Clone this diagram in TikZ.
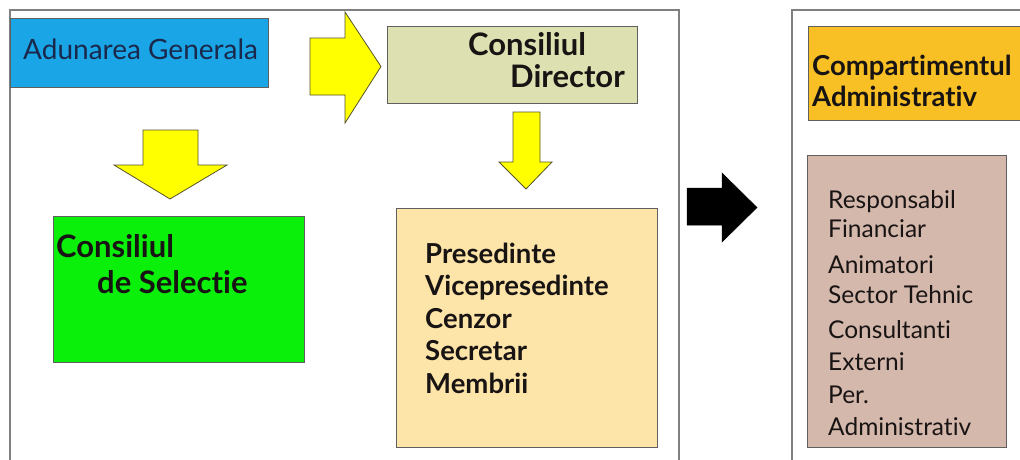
\documentclass[tikz,border=0pt]{standalone}
\usepackage{fontspec}
\setmainfont{Lato}[Ligatures=NoCommon]
\definecolor{agblue}{RGB}{26,166,230}
\definecolor{cdolive}{RGB}{221,224,176}
\definecolor{arryellow}{RGB}{255,255,0}
\definecolor{csgreen}{RGB}{10,240,10}
\definecolor{cream}{RGB}{253,228,168}
\definecolor{hdrorange}{RGB}{248,192,36}
\definecolor{pinkbox}{RGB}{212,184,172}
\definecolor{framegray}{RGB}{128,128,128}
\definecolor{boxgray}{RGB}{96,96,96}
\definecolor{navy}{RGB}{25,40,75}
\definecolor{txt}{RGB}{25,20,20}
\tikzset{
  frame/.style={draw=framegray, line width=1.3pt},
  boxstyle/.style={draw=boxgray, line width=1pt},
  yarrow/.style={fill=arryellow, draw=black!50!olive, line width=0.8pt, line join=miter},
  barrow/.style={fill=black, draw=black, line width=0.5pt},
  lbl/.style={anchor=base west, inner sep=0pt, text=txt},
  bigbold/.style={lbl, font=\fontsize{31}{34}\selectfont\bfseries},
  midbold/.style={lbl, font=\fontsize{27.5}{30}\selectfont\bfseries},
  reg/.style={lbl, font=\fontsize{24.5}{27}\selectfont},
}
\begin{document}
\begin{tikzpicture}[x=1pt,y=-1pt]
\useasboundingbox (0,0) rectangle (1020,459);
\fill[white] (0,0) rectangle (1020,459);
% outer frames
\draw[frame] (10,10) rectangle (679,475);
\draw[frame] (792,10) rectangle (1040,475);
% boxes
\node[boxstyle, fill=agblue, minimum width=258pt, minimum height=69pt, inner sep=0pt] (ag) at (139,52.5) {};
\node[boxstyle, fill=cdolive, minimum width=250pt, minimum height=77pt, inner sep=0pt] (cd) at (512,64.5) {};
\node[boxstyle, fill=csgreen, minimum width=251pt, minimum height=146pt, inner sep=0pt] (cs) at (178.5,289) {};
\node[boxstyle, fill=cream, minimum width=261pt, minimum height=239pt, inner sep=0pt] (cm) at (526.5,327.5) {};
\node[boxstyle, fill=hdrorange, minimum width=240pt, minimum height=94pt, inner sep=0pt] (ca) at (928,73) {};
\node[boxstyle, fill=pinkbox, minimum width=199pt, minimum height=292pt, inner sep=0pt] (rf) at (906.5,301) {};
% block arrows
\draw[yarrow] (310,38) -- (345,38) -- (345,12) -- (381,66.5) -- (345,123) -- (345,95) -- (310,95) -- cycle;
\draw[yarrow] (143,130) -- (198,130) -- (198,165) -- (227,165) -- (170,199) -- (114,165) -- (143,165) -- cycle;
\draw[yarrow] (513,112) -- (540,112) -- (540,162) -- (552,162) -- (526,189) -- (499,162) -- (513,162) -- cycle;
\draw[barrow] (687,188) -- (722,188) -- (722,173) -- (757,207.5) -- (722,242) -- (722,225) -- (687,225) -- cycle;
% texts
\node[lbl, text=navy, font=\fontsize{28}{30}\selectfont] (tag) at (23,59) {Adunarea Generala};
\node[bigbold] (tcd1) at (468,55) {Consiliul};
\node[bigbold] (tcd2) at (510,87) {Director};
\node[bigbold] (tcs1) at (56,257) {Consiliul};
\node[bigbold] (tcs2) at (97,293) {de Selectie};
\node[midbold] (tm1) at (425,263) {Presedinte};
\node[midbold] (tm2) at (425,295) {Vicepresedinte};
\node[midbold] (tm3) at (425,328) {Cenzor};
\node[midbold] (tm4) at (425,360) {Secretar};
\node[midbold] (tm5) at (425,393) {Membrii};
\node[midbold] (tca1) at (812,75) {Compartimentul};
\node[midbold] (tca2) at (812,106) {Administrativ};
\node[reg] (tr1) at (828,208) {Responsabil};
\node[reg] (tr2) at (828,237) {Financiar};
\node[reg] (tr3) at (828,273) {Animatori};
\node[reg] (tr4) at (828,303) {Sector Tehnic};
\node[reg] (tr5) at (828,338) {Consultanti};
\node[reg] (tr6) at (828,370) {Externi};
\node[reg] (tr7) at (828,403) {Per.};
\node[reg] (tr8) at (828,435) {Administrativ};
\end{tikzpicture}
\end{document}
